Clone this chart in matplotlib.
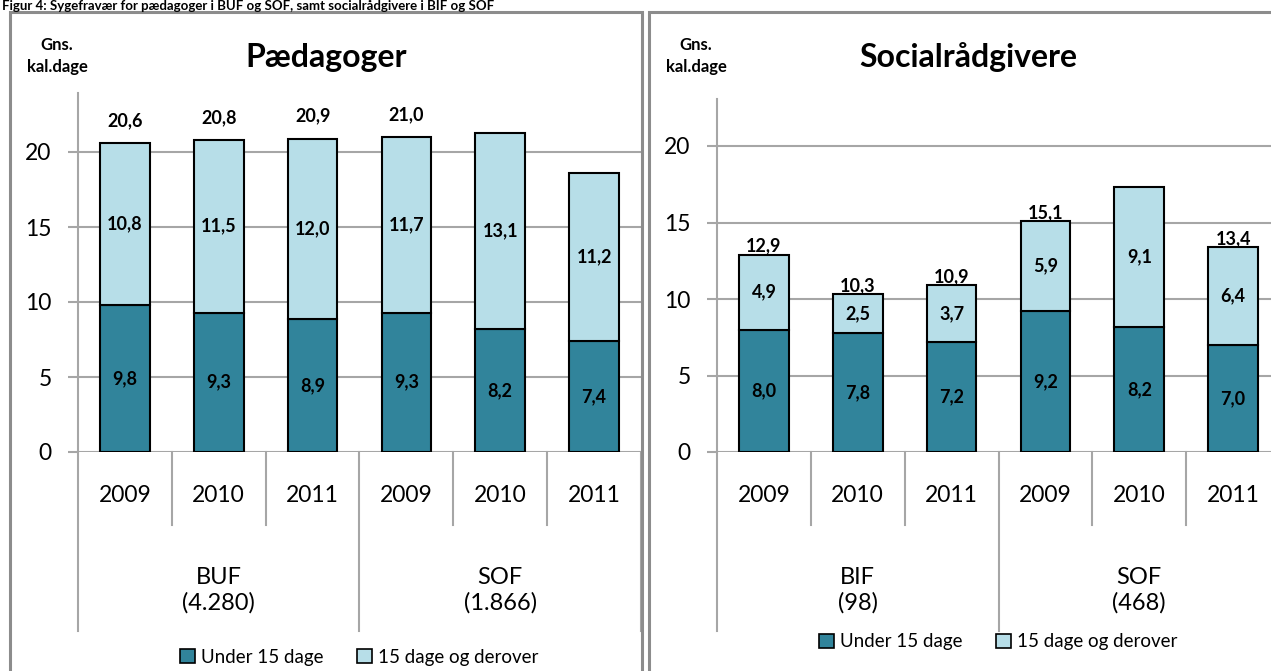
import matplotlib
matplotlib.use("Agg")
import matplotlib.pyplot as plt
from matplotlib.patches import Rectangle, Patch
from matplotlib.lines import Line2D

plt.rcParams['font.family'] = ['Lato', 'DejaVu Sans']

# ---- data ----
years = ["2009", "2010", "2011", "2009", "2010", "2011"]
ped_groups = ["BUF\n(4.280)", "SOF\n(1.866)"]
ped_under = [9.8, 9.3, 8.9, 9.3, 8.2, 7.4]
ped_over = [10.8, 11.5, 12.0, 11.7, 13.1, 11.2]
ped_totals = ["20,6", "20,8", "20,9", "21,0", None, None]

soc_groups = ["BIF\n(98)", "SOF\n(468)"]
soc_under = [8.0, 7.8, 7.2, 9.2, 8.2, 7.0]
soc_over = [4.9, 2.5, 3.7, 5.9, 9.1, 6.4]
soc_totals = ["12,9", "10,3", "10,9", "15,1", None, "13,4"]

series_names = ["Under 15 dage", "15 dage og derover"]
DARK = "#31849B"
LIGHT = "#B7DEE8"
GRID = "#A6A6A6"
BORDER = "#8C8C8C"

W, H = 1271, 671
fig = plt.figure(figsize=(W / 100, H / 100), dpi=100)


def fx(px):
    return px / W


def fy(py):
    return 1 - py / H


def fmt(v):
    return f"{v:.1f}".replace(".", ",")


# panel borders
for x0, x1 in [(10, 642), (649, 1300)]:
    fig.add_artist(Rectangle((fx(x0), fy(700)), fx(x1 - x0), (700 - 12) / H,
                             transform=fig.transFigure, fill=False,
                             edgecolor=BORDER, linewidth=2.2, clip_on=False))

# top title (squeezed into the strip above the panels)
fig.text(fx(2), fy(0), "Figur 4: Sygefravær for pædagoger i BUF og SOF, samt socialrådgivere i BIF og SOF",
         fontsize=9.5, fontweight="bold", va="top", ha="left")


def panel(left_px, top_px, ymax, title, under, over, totals, groups,
          total_offset, legend_y, title_x):
    bottom_px = 452
    width_px = 563
    ax = fig.add_axes([fx(left_px), fy(bottom_px), fx(width_px), (bottom_px - top_px) / H])
    x = list(range(len(years)))
    ax.bar(x, under, width=0.53, color=DARK, edgecolor="black", linewidth=1.5, zorder=3)
    ax.bar(x, over, width=0.53, bottom=under, color=LIGHT, edgecolor="black", linewidth=1.5, zorder=3)
    for i in x:
        ax.text(i, under[i] / 2, fmt(under[i]), ha="center", va="center",
                fontsize=13, fontweight="bold", zorder=4)
        ax.text(i, under[i] + over[i] / 2, fmt(over[i]), ha="center", va="center",
                fontsize=13, fontweight="bold", zorder=4)
        if totals[i] is not None:
            ax.annotate(totals[i], (i, under[i] + over[i]), xytext=(0, total_offset),
                        textcoords="offset points", ha="center", va="bottom",
                        fontsize=13, fontweight="bold", zorder=4)
    ax.set_xlim(-0.5, 5.5)
    ax.set_ylim(0, ymax)
    ax.set_yticks([0, 5, 10, 15, 20])
    ax.yaxis.grid(True, color=GRID, linewidth=1.5, zorder=0)
    ax.set_axisbelow(True)
    for s in ["top", "right", "bottom"]:
        ax.spines[s].set_visible(False)
    ax.spines["left"].set_color(GRID)
    ax.spines["left"].set_linewidth(1.5)
    ax.tick_params(axis="y", length=7, width=1.5, color=GRID, pad=12, labelsize=16.5)
    ax.set_xticks([])
    # category separators below axis
    tr = ax.get_xaxis_transform()
    hpx = bottom_px - top_px
    short = -73 / hpx
    tall = -179 / hpx
    for xs in [0.5, 1.5, 3.5, 4.5]:
        ax.add_line(Line2D([xs, xs], [0, short], transform=tr, color=GRID,
                           linewidth=1.5, clip_on=False))
    for xs in [-0.5, 2.5, 5.5]:
        ax.add_line(Line2D([xs, xs], [0, tall], transform=tr, color=GRID,
                           linewidth=1.5, clip_on=False))
    for i, yr in enumerate(years):
        ax.text(i, -43 / hpx, yr, transform=tr, ha="center", va="center", fontsize=16.5)
    for g, gl in enumerate(groups):
        ax.text(1 + 3 * g, -138 / hpx, gl, transform=tr, ha="center", va="center",
                fontsize=17, linespacing=1.25)
    # title and y label
    fig.text(fx(title_x), fy(57), title, fontsize=23, fontweight="bold", ha="center", va="center")
    fig.text(fx(left_px - 21), fy(56), "Gns.\nkal.dage", fontsize=12, fontweight="bold",
             ha="center", va="center", linespacing=1.5)
    handles = [Patch(facecolor=DARK, edgecolor="black", linewidth=1.2),
               Patch(facecolor=LIGHT, edgecolor="black", linewidth=1.2)]
    fig.legend(handles, series_names, loc="center", ncol=2, frameon=False,
               bbox_to_anchor=(fx(left_px + 281), fy(legend_y)), fontsize=13.5,
               handlelength=0.8, handleheight=0.8, handletextpad=0.3, columnspacing=1.8)
    return ax


panel(78, 93, 359 / 15.0, "Pædagoger", ped_under, ped_over, ped_totals, ped_groups,
      total_offset=10, legend_y=657, title_x=326)
panel(717, 99, 353 / 15.3, "Socialrådgivere", soc_under, soc_over, soc_totals, soc_groups,
      total_offset=0, legend_y=642, title_x=968)

fig.savefig("out.png", dpi=100)
